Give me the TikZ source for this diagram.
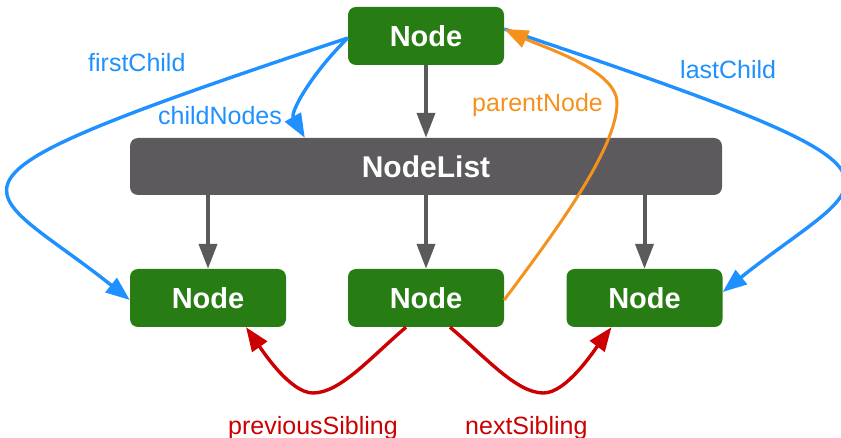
\documentclass[tikz,border=0pt]{standalone}
\usepackage{fontspec}
\setmainfont{Liberation Sans}
\usetikzlibrary{arrows.meta}

\definecolor{nodegreen}{RGB}{39,125,20}
\definecolor{listgray}{RGB}{92,90,92}
\definecolor{arrowgray}{RGB}{90,90,90}
\definecolor{linkblue}{RGB}{30,144,255}
\definecolor{linkorange}{RGB}{245,146,30}
\definecolor{linkred}{RGB}{204,0,0}

\tikzset{
  box/.style={rounded corners=8pt, inner sep=0pt, text=white,
    font=\fontsize{29}{34}\selectfont\bfseries},
  domnode/.style={box, fill=nodegreen, minimum width=156pt, minimum height=58pt},
  listnode/.style={box, fill=listgray, minimum width=592pt, minimum height=57pt,
    font=\fontsize{30}{35}\selectfont\bfseries},
  tree/.style={draw=arrowgray, line width=4pt, -{Triangle[length=25pt,width=18pt]}},
  link/.style={line width=3.4pt, -{Triangle[length=24pt,width=18pt]}},
  lbl/.style={font=\fontsize{25}{30}\selectfont, inner sep=0pt},
}

\begin{document}
\begin{tikzpicture}[x=1pt, y=-1pt]
  \useasboundingbox (0,0) rectangle (841,438);

  % nodes
  \node[domnode]  (top)    at (426,36)    {Node};
  \node[listnode] (list)   at (426,166.5) {NodeList};
  \node[domnode]  (leftn)  at (208,298)   {Node};
  \node[domnode]  (midn)   at (426,298)   {Node};
  \node[domnode]  (rightn) at (644.5,298) {Node};

  % tree structure
  \draw[tree] (top.south) -- (list.north);
  \draw[tree] (list.south -| leftn.north)  -- (leftn.north);
  \draw[tree] (list.south -| midn.north)   -- (midn.north);
  \draw[tree] (list.south -| rightn.north) -- (rightn.north);

  % child links
  \draw[link, linkblue] ([yshift=-2pt]top.west)
    .. controls (-103,188) and (-22,179) .. ([yshift=-2pt]leftn.west);
  \draw[link, linkblue] ([yshift=-2pt]top.west)
    .. controls (312,73) and (290,112) .. ([xshift=175pt]list.north west);
  \draw[link, linkblue] ([yshift=7pt]top.east)
    .. controls (955,180) and (874,171) .. ([yshift=6pt]rightn.east);

  % parent link
  \draw[link, linkorange, line width=3pt] ([yshift=-2pt]midn.east)
    .. controls (551,237) and (617,150) .. (617,103)
    .. controls (617,70) and (545,48) .. ([yshift=7pt]top.east);

  % sibling links
  \draw[link, linkred] ([xshift=-20pt]midn.south)
    .. controls (370,358) and (340,393) .. (313,393)
    .. controls (290,393) and (262,350) .. ([xshift=38pt]leftn.south);
  \draw[link, linkred] ([xshift=24pt]midn.south)
    .. controls (486.5,358) and (516.5,393) .. (543.5,393)
    .. controls (566.5,393) and (594.5,350) .. ([xshift=-33pt]rightn.south);

  % labels
  \node[lbl, text=linkblue,   anchor=base west] (lfirst)  at (88,72)   {firstChild};
  \node[lbl, text=linkblue,   anchor=base west] (lchild)  at (158,125) {childNodes};
  \node[lbl, text=linkorange, anchor=base west] (lparent) at (472,112) {parentNode};
  \node[lbl, text=linkblue,   anchor=base west] (llast)   at (680,79)  {lastChild};
  \node[lbl, text=linkred,    anchor=base west] (lprev)   at (228,434) {previousSibling};
  \node[lbl, text=linkred,    anchor=base west] (lnext)   at (465,434) {nextSibling};
\end{tikzpicture}
\end{document}
